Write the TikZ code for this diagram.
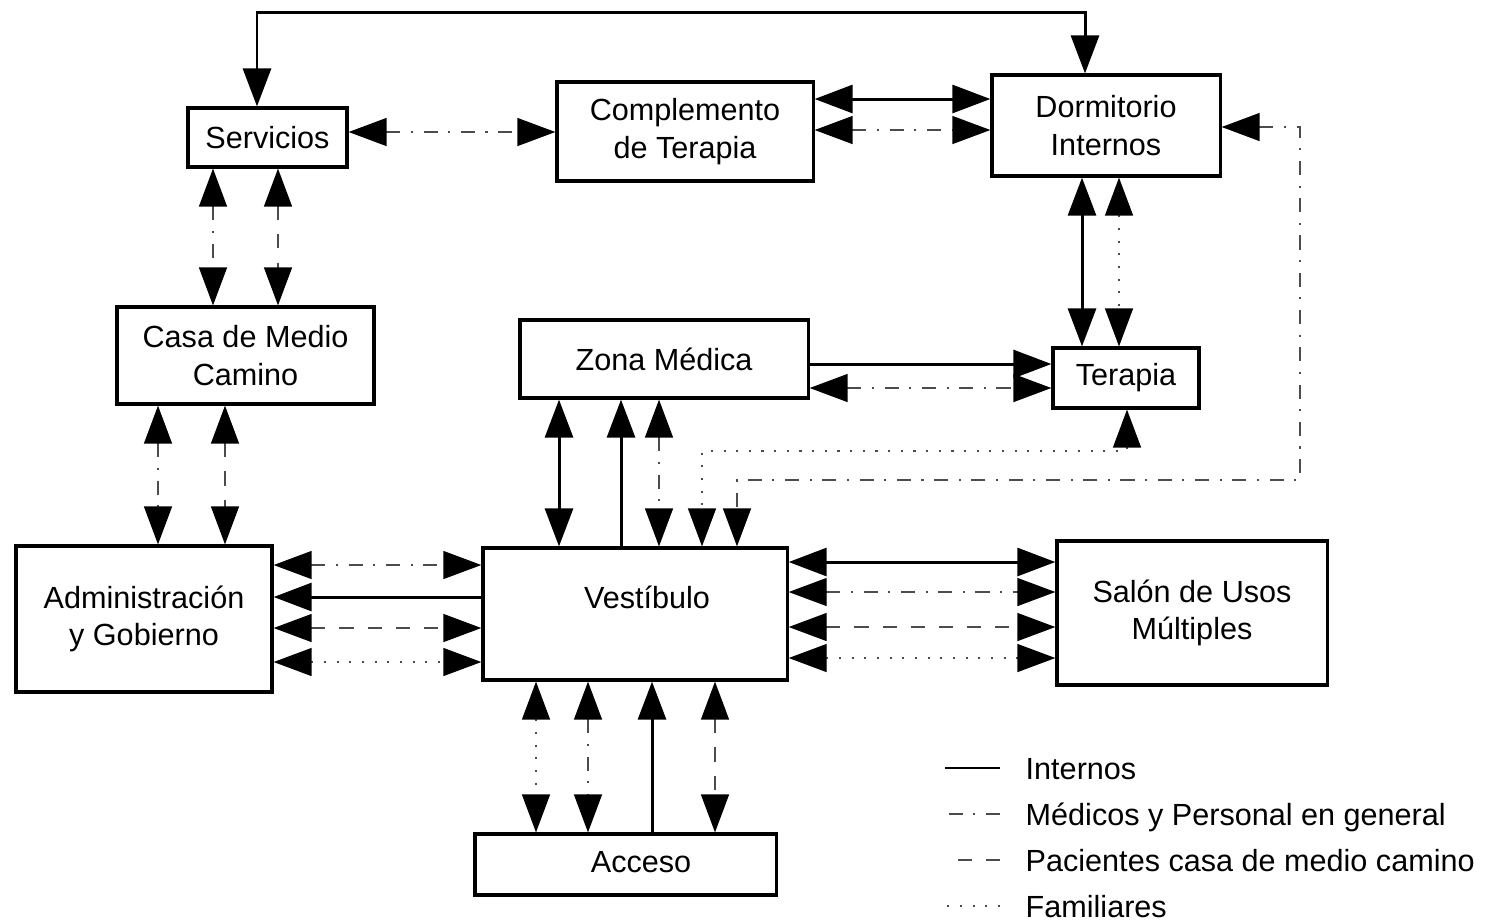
\documentclass[tikz,border=0pt]{standalone}
\usepackage{fontspec}
\setmainfont{Liberation Sans}
\usetikzlibrary{arrows.meta}

\begin{document}
\begin{tikzpicture}[
  x=0.01cm, y=-0.01cm,
  every node/.style={font=\fontsize{8.7}{10.6}\selectfont},
  box/.style={
    draw,
    line width=0.9pt,
    inner sep=0pt,
    align=center
  },
  >={Triangle[length=3.8mm,width=2.8mm,color=black]},
  int/.style={line width=0.85pt},
  med/.style={line width=0.4pt, black!70, dash pattern=on 4pt off 3pt on 0.6pt off 3pt},
  pac/.style={line width=0.4pt, black!70, dash pattern=on 4pt off 4pt},
  fam/.style={line width=0.4pt, black!70, dash pattern=on 0.6pt off 3pt},
  legtext/.style={anchor=base west, inner sep=0pt}
]
\useasboundingbox (0,0) rectangle (1485,923);

% areas
\node[box, minimum width=1.59cm, minimum height=0.59cm] (serv) at (267.5,137.5) {Servicios};
\node[box, minimum width=2.56cm, minimum height=0.99cm] (comp) at (685,131.5) {Complemento\\de Terapia};
\node[box, minimum width=2.28cm, minimum height=1.01cm] (dorm) at (1106,125.5) {Dormitorio\\Internos};
\node[box, minimum width=2.57cm, minimum height=0.97cm] (casa) at (245.5,355.5) {Casa de Medio\\Camino};
\node[box, minimum width=2.88cm, minimum height=0.78cm] (zona) at (664,359) {Zona Médica};
\node[box, minimum width=1.46cm, minimum height=0.60cm] (terap) at (1126,378) {Terapia};
\node[box, minimum width=2.56cm, minimum height=1.46cm] (admin) at (144,619) {Administración\\y Gobierno};
\node[box, minimum width=3.04cm, minimum height=1.32cm] (vest) at (635,614) {};
\node (vesttxt) at (647,597) {Vestíbulo};
\node[box, minimum width=2.70cm, minimum height=1.44cm] (salon) at (1192,613) {Salón de Usos\\Múltiples};
\node[box, minimum width=3.01cm, minimum height=0.61cm] (acceso) at (625.5,864.5) {};
\node (accesotxt) at (641,862) {Acceso};

% servicios - dormitorio
\draw[int,<->] (serv.north -| 257,0) -- ++(0,-94) -| (dorm.north -| 1085,0);
\draw[med,<->] (serv.east |- 0,132) -- (comp.west |- 0,132);
\draw[int,<->] (comp.east |- 0,99) -- (dorm.west |- 0,99);
\draw[med,<->] (comp.east |- 0,130) -- (dorm.west |- 0,130);
\draw[int,<->] (dorm.south -| 1082,0) -- (terap.north -| 1082,0);
\draw[fam,<->] (dorm.south -| 1119,0) -- (terap.north -| 1119,0);

% columna izquierda
\draw[med,<->] (serv.south -| 213,0) -- (casa.north -| 213,0);
\draw[pac,<->] (serv.south -| 278,0) -- (casa.north -| 278,0);
\draw[med,<->] (casa.south -| 158,0) -- (admin.north -| 158,0);
\draw[pac,<->] (casa.south -| 225,0) -- (admin.north -| 225,0);

% vestibulo - administracion
\draw[med,<->] (admin.east |- 0,565) -- (vest.west |- 0,565);
\draw[int,->] (vest.west |- 0,597) -- (admin.east |- 0,597);
\draw[pac,<->] (admin.east |- 0,628) -- (vest.west |- 0,628);
\draw[fam,<->] (admin.east |- 0,662) -- (vest.west |- 0,662);

% vestibulo - salon
\draw[int,<->] (vest.east |- 0,562) -- (salon.west |- 0,562);
\draw[med,<->] (vest.east |- 0,592) -- (salon.west |- 0,592);
\draw[pac,<->] (vest.east |- 0,627) -- (salon.west |- 0,627);
\draw[fam,<->] (vest.east |- 0,658) -- (salon.west |- 0,658);

% zona medica
\draw[int,<->] (zona.south -| 559,0) -- (vest.north -| 559,0);
\draw[int,->] (vest.north -| 621,0) -- (zona.south -| 621,0);
\draw[med,<->] (zona.south -| 659,0) -- (vest.north -| 659,0);
\draw[int,->] (zona.east |- 0,364) -- (terap.west |- 0,364);
\draw[med,<->] (zona.east |- 0,388) -- (terap.west |- 0,388);

% recorridos largos
\draw[fam,<->] (terap.south -| 1127,0) |- (702,451) -- (vest.north -| 702,0);
\draw[med,<->] (dorm.east |- 0,127) -| (1300,480) -| (vest.north -| 737,0);

% acceso
\draw[fam,<->] (vest.south -| 536,0) -- (acceso.north -| 536,0);
\draw[med,<->] (vest.south -| 588,0) -- (acceso.north -| 588,0);
\draw[int,->] (acceso.north -| 652,0) -- (vest.south -| 652,0);
\draw[pac,<->] (vest.south -| 715,0) -- (acceso.north -| 715,0);

% leyenda
\foreach \sty/\txt [count=\i] in {int/Internos, med/Médicos y Personal en general,
    pac/Pacientes casa de medio camino, fam/Familiares} {
  \node[legtext] (leg\i) at (1025,779+46*\i-46) {\txt};
  \draw[\sty, line width=0.4pt] ([shift={(-25,-11)}]leg\i.base west) -- ([shift={(-80,-11)}]leg\i.base west);
}
\end{tikzpicture}
\end{document}
